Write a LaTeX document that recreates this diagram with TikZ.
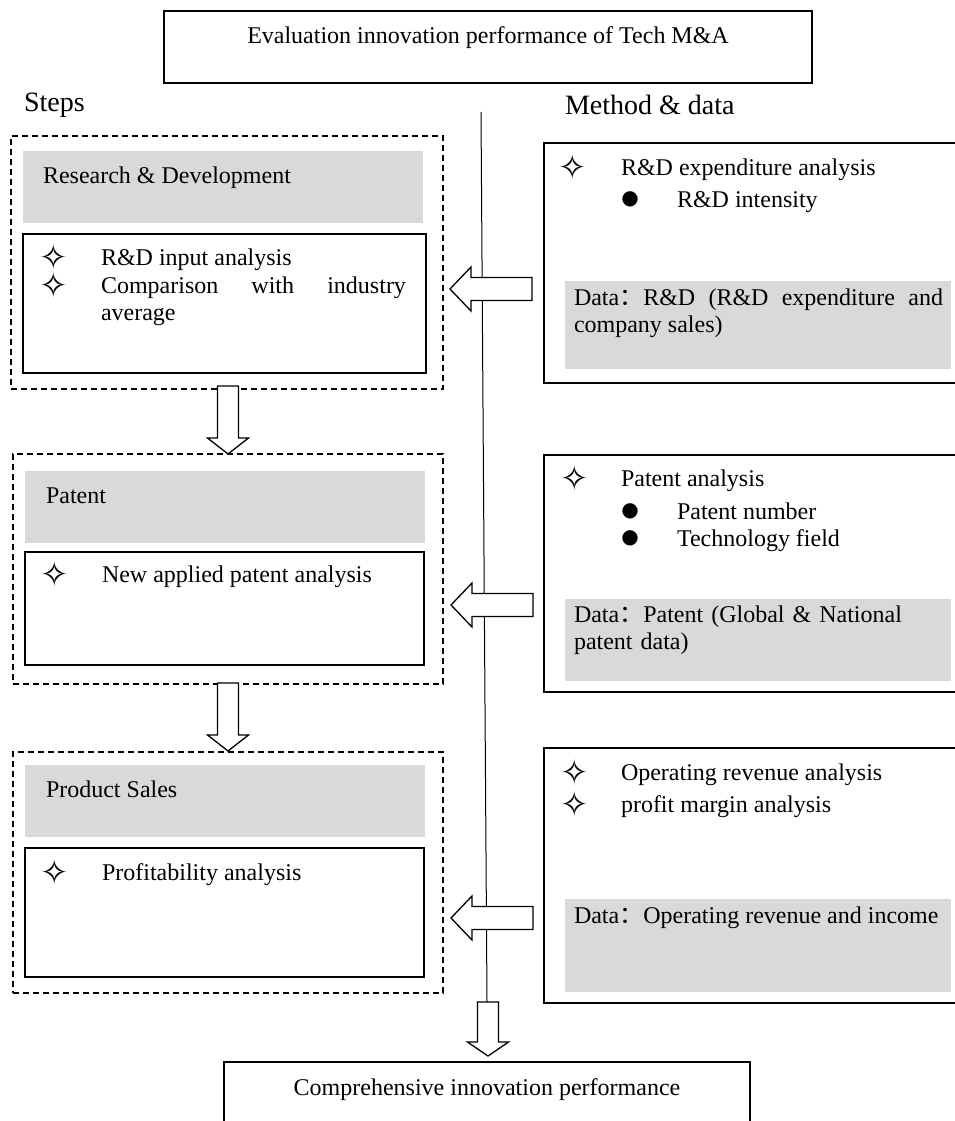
\documentclass[tikz,border=0pt]{standalone}
\usepackage{fontspec}
\setmainfont{Liberation Serif}
\newfontfamily\symfont{DejaVu Sans}
\newfontfamily\cjk{Noto Sans CJK SC}
\usetikzlibrary{positioning, calc}
\definecolor{boxgray}{RGB}{217,217,217}
\hyphenpenalty=10000
\tolerance=10000
\newcommand{\diagfont}{\fontsize{24}{27.5}\selectfont}
\newcommand{\headfont}{\fontsize{28}{32}\selectfont}
\newcommand{\starmark}{{\symfont\fontsize{34}{34}\selectfont ✧}}
\newcommand{\dotmark}{{\symfont\fontsize{20}{20}\selectfont ●}}
\newcommand{\fwcolon}{{\cjk ：}}

\begin{document}
\begin{tikzpicture}[
    x=1pt, y=-1pt,
    every node/.style={inner sep=0pt, outer sep=0pt, font=\diagfont},
    frame/.style={draw=black, line width=1.3pt, anchor=north west},
    stepframe/.style={draw=black, line width=1.1pt, dash pattern=on 6pt off 4pt, anchor=north west},
    shade/.style={fill=boxgray, anchor=north west},
    txt/.style={anchor=base west},
    heading/.style={anchor=base west, font=\headfont},
    bulletmark/.style={anchor=center},
    blockarrow/.style={draw=black, fill=white, line width=1.3pt, line join=miter}
]
    \useasboundingbox (0,0) rectangle (955,1121);

    % Title and result boxes
    \node[frame, minimum width=648pt, minimum height=72pt] (evalbox) at (164,11) {};
    \node[anchor=base] (evaltext) at (488,44) {Evaluation innovation performance of Tech M\&A};
    \node[frame, minimum width=526pt, minimum height=100pt] (resultbox) at (224,1062) {};
    \node[anchor=base] (resulttext) at (487,1095) {Comprehensive innovation performance};

    % Column headings
    \node[heading] (steps) at (24,112) {Steps};
    \node[heading] (method) at (565,115) {Method \& data};

    % Axis
    \coordinate (axistop) at (481,112);
    \coordinate (axisbottom) at (487,1002);
    \draw[line width=1pt] (axistop) -- (axisbottom);

    % Step 1: Research & Development
    \node[stepframe, minimum width=432pt, minimum height=253pt] (rdstep) at (11,136) {};
    \node[shade, minimum width=400pt, minimum height=72pt] (rdshade) at (23,151) {};
    \node[txt] (rdtitle) at (43,183) {Research \& Development};
    \node[frame, minimum width=403pt, minimum height=139pt] (rdbox) at (23,234) {};
    \node[bulletmark] (rdstarA) at (54,257) {\starmark};
    \node[txt] (rditemA) at (101,265) {R\&D input analysis};
    \node[bulletmark] (rdstarB) at (54,285) {\starmark};
    \node[txt, text width=305pt, align=justify] (rditemB) at (101,293) {Comparison with industry average};

    % Step 2: Patent
    \node[stepframe, minimum width=430pt, minimum height=230pt] (patstep) at (13,454) {};
    \node[shade, minimum width=400pt, minimum height=72pt] (patshade) at (25,471) {};
    \node[txt] (pattitle) at (46,503) {Patent};
    \node[frame, minimum width=399pt, minimum height=113pt] (patbox) at (25,552) {};
    \node[bulletmark] (patstar) at (55,574) {\starmark};
    \node[txt] (patitem) at (102,582) {New applied patent analysis};

    % Step 3: Product Sales
    \node[stepframe, minimum width=430pt, minimum height=241pt] (salestep) at (13,752) {};
    \node[shade, minimum width=400pt, minimum height=72pt] (saleshade) at (25,765) {};
    \node[txt] (saletitle) at (46,797) {Product Sales};
    \node[frame, minimum width=399pt, minimum height=129pt] (salebox) at (25,848) {};
    \node[bulletmark] (salestar) at (55,872) {\starmark};
    \node[txt] (saleitem) at (102,880) {Profitability analysis};

    % Method 1
    \node[frame, minimum width=440pt, minimum height=240pt] (rdmethod) at (544,143) {};
    \node[bulletmark] (rdmstar) at (573,167) {\starmark};
    \node[txt] (rdmitem) at (621,175) {R\&D expenditure analysis};
    \node[bulletmark] (rdmdot) at (630,199) {\dotmark};
    \node[txt] (rdmsub) at (677,207) {R\&D intensity};
    \node[shade, minimum width=386pt, minimum height=88pt] (rddata) at (565,281) {};
    \node[txt, text width=369pt, align=justify] (rddatatext) at (574,305)
        {Data\fwcolon R\&D (R\&D expenditure and company sales)};

    % Method 2
    \node[frame, minimum width=440pt, minimum height=237pt] (patmethod) at (544,455) {};
    \node[bulletmark] (patmstar) at (575,478) {\starmark};
    \node[txt] (patmitem) at (621,486) {Patent analysis};
    \node[bulletmark] (patmdotA) at (630,511) {\dotmark};
    \node[txt] (patmsubA) at (677,519) {Patent number};
    \node[bulletmark] (patmdotB) at (630,538) {\dotmark};
    \node[txt] (patmsubB) at (677,546) {Technology field};
    \node[shade, minimum width=386pt, minimum height=82pt] (patdata) at (565,599) {};
    \node[txt, text width=369pt, align=left] (patdatatext) at (574,622)
        {Data\fwcolon Patent (Global \& National\\patent data)};

    % Method 3
    \node[frame, minimum width=440pt, minimum height=255pt] (salemethod) at (544,748) {};
    \node[bulletmark] (salemstarA) at (575,772) {\starmark};
    \node[txt] (salemitemA) at (621,780) {Operating revenue analysis};
    \node[bulletmark] (salemstarB) at (575,804) {\starmark};
    \node[txt] (salemitemB) at (621,812) {profit margin analysis};
    \node[shade, minimum width=386pt, minimum height=93pt] (saledata) at (565,899) {};
    \node[txt] (saledatatext) at (574,923) {Data\fwcolon Operating revenue and income};

    % Block arrows
    \coordinate (tipRD) at (450,289);
    \coordinate (tipPat) at (451,605);
    \coordinate (tipSale) at (451,918);
    \coordinate (tipStepA) at (228,454);
    \coordinate (tipStepB) at (228,751);
    \coordinate (tipResult) at (488,1056);
    \foreach \tip in {tipRD, tipPat, tipSale}
        \draw[blockarrow] (\tip) -- ++(21,-22) -- ++(0,10.5) -- ++(61,0) -- ++(0,23)
            -- ++(-61,0) -- ++(0,10.5) -- cycle;
    \foreach \tip in {tipStepA, tipStepB}
        \draw[blockarrow] (\tip) -- ++(-20.5,-16) -- ++(10,0) -- ++(0,-52) -- ++(21,0)
            -- ++(0,52) -- ++(10,0) -- cycle;
    \draw[blockarrow] (tipResult) -- ++(-20.5,-14) -- ++(10,0) -- ++(0,-40) -- ++(21,0)
        -- ++(0,40) -- ++(10,0) -- cycle;

\end{tikzpicture}
\end{document}
